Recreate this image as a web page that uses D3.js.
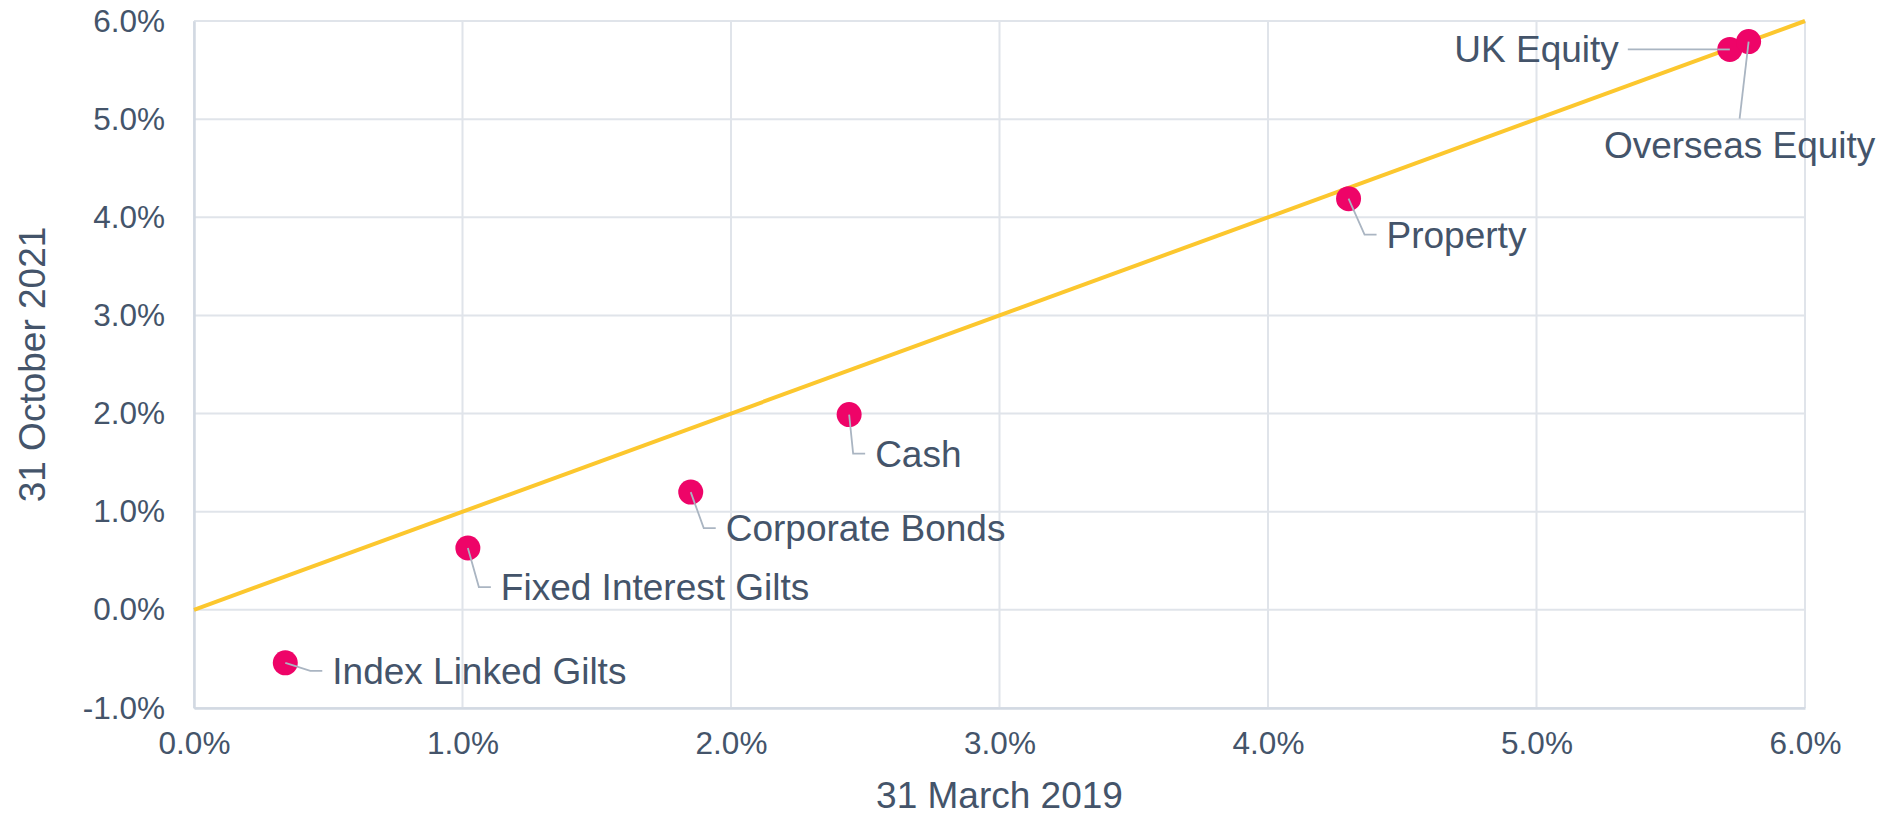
<!DOCTYPE html>
<html>
<head>
<meta charset="utf-8">
<script src="https://cdn.jsdelivr.net/npm/d3@7"></script>
<style>
    body { margin: 0; background: #fff; }
    text { font-family: "Liberation Sans", Arial, sans-serif; fill: #44546a; }
</style>
</head>
<body>
<div id="chart"></div>
<script>
// asset classes, yield at 31 March 2019 (x) and 31 October 2021 (y), in %
const assets = ['Index Linked Gilts', 'Fixed Interest Gilts', 'Corporate Bonds', 'Cash', 'Property', 'UK Equity', 'Overseas Equity'];
const march2019 = [0.34, 1.02, 1.85, 2.44, 4.30, 5.72, 5.79];
const october2021 = [-0.54, 0.63, 1.20, 1.99, 4.19, 5.71, 5.79];

const xTicks = [0, 1, 2, 3, 4, 5, 6];
const yTicks = [-1, 0, 1, 2, 3, 4, 5, 6];

// where each label sits relative to its point: [dx, dy] of the leader bend
const labelOffsets = [[25, 8], [11, 39], [13, 36], [4, 39], [16, 36], [-102, 0], [-9, 77]];

const WIDTH = 1891;
const HEIGHT = 816;
const margin = { top: 21, right: 86, bottom: 108, left: 194 };

const svg = d3.select('#chart')
    .append('svg')
    .attr('width', WIDTH)
    .attr('height', HEIGHT);

const x = d3.scaleLinear().domain([0, 6]).range([margin.left, WIDTH - margin.right]);
const y = d3.scaleLinear().domain([-1, 6]).range([HEIGHT - margin.bottom, margin.top]);

const fmt = d => d.toFixed(1) + '%';

// gridlines
svg.append('g')
    .selectAll('line')
    .data(xTicks)
    .enter()
    .append('line')
    .attr('x1', d => x(d))
    .attr('x2', d => x(d))
    .attr('y1', y(-1))
    .attr('y2', y(6))
    .attr('stroke', '#e0e4ea')
    .attr('stroke-width', 2);

svg.append('g')
    .selectAll('line')
    .data(yTicks)
    .enter()
    .append('line')
    .attr('x1', x(0))
    .attr('x2', x(6))
    .attr('y1', d => y(d))
    .attr('y2', d => y(d))
    .attr('stroke', '#e0e4ea')
    .attr('stroke-width', 2);

// axes
const xAxis = svg.append('g')
    .attr('transform', `translate(0,${y(-1)})`)
    .call(d3.axisBottom(x).tickValues(xTicks).tickFormat(fmt).tickSize(0).tickPadding(16));

const yAxis = svg.append('g')
    .attr('transform', `translate(${x(0)},0)`)
    .call(d3.axisLeft(y).tickValues(yTicks).tickFormat(fmt).tickSize(0).tickPadding(29));

[xAxis, yAxis].forEach(a => {
    a.select('.domain').attr('stroke', '#d2d9e2').attr('stroke-width', 2.5);
    a.selectAll('text')
        .attr('font-size', 31.5)
        .attr('fill', '#44546a')
        .style('font-family', '"Liberation Sans", Arial, sans-serif');
});
xAxis.selectAll('text').attr('dy', '0.95em');

// axis titles
svg.append('text')
    .attr('x', (x(0) + x(6)) / 2)
    .attr('y', 808)
    .attr('text-anchor', 'middle')
    .attr('font-size', 37)
    .text('31 March 2019');

svg.append('text')
    .attr('transform', `translate(45,${(y(-1) + y(6)) / 2}) rotate(-90)`)
    .attr('text-anchor', 'middle')
    .attr('font-size', 37)
    .text('31 October 2021');

// 45 degree reference line
svg.append('line')
    .attr('x1', x(0))
    .attr('y1', y(0))
    .attr('x2', x(6))
    .attr('y2', y(6))
    .attr('stroke', '#fcc72e')
    .attr('stroke-width', 4);

const points = assets.map((name, i) => ({
    name: name,
    px: x(march2019[i]),
    py: y(october2021[i]),
    off: labelOffsets[i]
}));

// leader lines
svg.append('g')
    .selectAll('path')
    .data(points)
    .enter()
    .append('path')
    .attr('d', d => {
        const bx = d.px + d.off[0];
        const by = d.py + d.off[1];
        if (d.name === 'Overseas Equity') return `M${d.px},${d.py}L${bx},${by}`;
        if (d.name === 'UK Equity') return `M${d.px},${d.py}L${bx},${by}`;
        return `M${d.px},${d.py}L${bx},${by}L${bx + 12},${by}`;
    })
    .attr('fill', 'none')
    .attr('stroke', '#aab5c2')
    .attr('stroke-width', 1.8);

// points
svg.append('g')
    .selectAll('circle')
    .data(points)
    .enter()
    .append('circle')
    .attr('cx', d => d.px)
    .attr('cy', d => d.py)
    .attr('r', 12.5)
    .attr('fill', '#ee0468');

// redraw leader start over the dots like the original
svg.append('g')
    .selectAll('line')
    .data(points)
    .enter()
    .append('line')
    .attr('x1', d => d.px)
    .attr('y1', d => d.py)
    .attr('x2', d => {
        const len = Math.hypot(d.off[0], d.off[1]);
        return d.px + d.off[0] / len * 12.5;
    })
    .attr('y2', d => {
        const len = Math.hypot(d.off[0], d.off[1]);
        return d.py + d.off[1] / len * 12.5;
    })
    .attr('stroke', '#aab5c2')
    .attr('stroke-width', 1.8);

// labels
svg.append('g')
    .selectAll('text')
    .data(points)
    .enter()
    .append('text')
    .attr('x', d => {
        const bx = d.px + d.off[0];
        if (d.name === 'UK Equity') return bx - 9;
        if (d.name === 'Overseas Equity') return bx;
        return bx + 22;
    })
    .attr('y', d => {
        const by = d.py + d.off[1];
        if (d.name === 'Overseas Equity') return by + 39;
        return by + 13;
    })
    .attr('text-anchor', d => d.name === 'UK Equity' ? 'end' : (d.name === 'Overseas Equity' ? 'middle' : 'start'))
    .attr('font-size', 37)
    .text(d => d.name);
</script>
</body>
</html>
